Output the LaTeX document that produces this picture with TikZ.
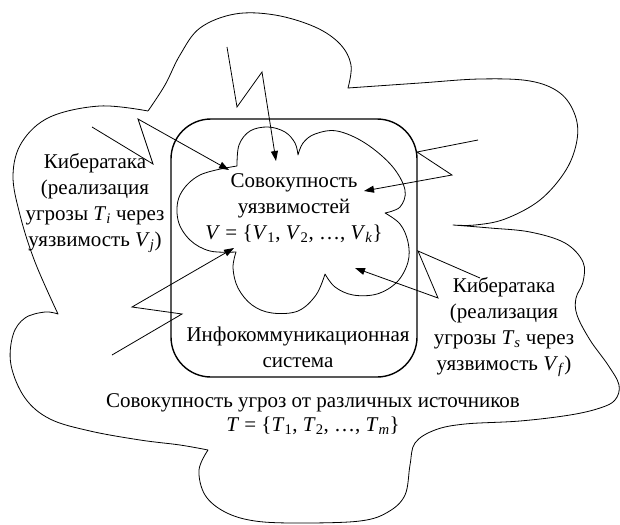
\documentclass[tikz,border=0pt]{standalone}
\usepackage{fontspec}
\setmainfont{Liberation Serif}
\usetikzlibrary{arrows.meta}
\newcommand{\sbs}[1]{\textsubscript{#1}}
\begin{document}
\begin{tikzpicture}[x=1pt,y=-1pt,
  cloudline/.style={line width=0.8pt, line join=round},
  attack/.style={line width=0.8pt, line join=miter, -{Triangle[length=10pt,width=7pt]}},
  lbl/.style={font=\fontsize{21}{26}\selectfont, align=center, inner sep=0pt},
  sysbox/.style={draw, line width=1.4pt, rounded corners=40pt, minimum width=246pt, minimum height=258pt, inner sep=0pt}
]
\useasboundingbox (0,0) rectangle (620,524);

% outer cloud: set of threats
\draw[cloudline]
  plot[smooth, tension=0.6] coordinates {(148,111) (165,85) (180,55) (200,28) (235,14) (275,15) (315,27) (340,44) (351,65) (348,88)}
  -- plot[smooth, tension=0.6] coordinates {(348,88) (420,83) (480,79) (530,81) (560,93) (575,115) (577,140) (566,170) (540,200) (505,219) (475,225) (453,225)}
  -- plot[smooth, tension=0.6] coordinates {(453,225) (490,228) (530,232) (565,243) (583,262) (583,282) (576,298) (577,315) (590,340) (608,365) (619,385) (615,400) (600,408) (570,415) (520,421) (465,424) (435,430) (415,443) (410,465) (405,495) (388,512) (360,521) (300,523) (255,521) (225,512) (205,495) (199,470) (208,450)}
  -- plot[smooth, tension=0.6] coordinates {(208,450) (180,445) (140,440) (90,431) (50,419) (25,398) (11,365) (13,335) (25,318) (45,312) (58,314)}
  -- plot[smooth, tension=0.6] coordinates {(58,314) (35,262) (20,215) (13,175) (22,142) (50,117) (100,106) (148,111)};

% system box
\node[sysbox] (sys) at (294,248) {};

% inner cloud: set of vulnerabilities
\draw[cloudline]
  plot[smooth, tension=0.6] coordinates {(237,166) (239,145) (250,131) (268,127) (285,132) (295,143) (298,155)}
  -- plot[smooth, tension=0.6] coordinates {(298,155) (303,143) (315,134) (337,131) (365,143) (392,166) (405,190) (400,207) (385,213)}
  -- plot[smooth, tension=0.6] coordinates {(385,213) (400,224) (408,242) (408,262) (397,282) (377,294) (353,295) (335,287) (325,274)}
  -- plot[smooth, tension=0.6] coordinates {(325,274) (316,295) (298,311) (272,313) (252,305) (238,288) (233,268) (236,252)}
  -- plot[smooth, tension=0.6] coordinates {(236,252) (210,251) (190,240) (178,220) (180,195) (200,175) (237,166)};

% texts
\node[lbl] (vuln) at (294,208) {Совокупность\\уязвимостей\\\textit{V} = \{\textit{V}\sbs{1}, \textit{V}\sbs{2}, …, \textit{V}\sbs{\textit{k}}\}};
\node[lbl] (left) at (95,203) {Кибератака\\(реализация\\угрозы \textit{T}\sbs{\textit{i}} через\\уязвимость \textit{V}\sbs{\textit{j}})};
\node[lbl] (right) at (504,327) {Кибератака\\(реализация\\угрозы \textit{T}\sbs{\textit{s}} через\\уязвимость \textit{V}\sbs{\textit{f}})};
\node[lbl] (systxt) at (298,347) {Инфокоммуникационная\\система};
\node[lbl, font=\fontsize{21}{24}\selectfont] (threats) at (313,414) {Совокупность угроз от различных источников\\\textit{T} = \{\textit{T}\sbs{1}, \textit{T}\sbs{2}, …, \textit{T}\sbs{\textit{m}}\}};

% attack zigzags
\coordinate (z1s) at (92,127);   \coordinate (z1a) at (153,164); \coordinate (z1b) at (138,119); \coordinate (z1e) at (229,170);
\coordinate (z2s) at (227,47);   \coordinate (z2a) at (237,107); \coordinate (z2b) at (262,72);  \coordinate (z2e) at (276,161);
\coordinate (z3s) at (478,140);  \coordinate (z3a) at (417,152); \coordinate (z3b) at (452,175); \coordinate (z3e) at (364,191);
\coordinate (z4s) at (480,278);  \coordinate (z4a) at (418,251); \coordinate (z4b) at (438,298); \coordinate (z4e) at (355,268);
\coordinate (z5s) at (112,355);  \coordinate (z5a) at (182,314); \coordinate (z5b) at (132,307); \coordinate (z5e) at (234,248);

\draw[attack] (z1s) -- (z1a) -- (z1b) -- (z1e);
\draw[attack] (z2s) -- (z2a) -- (z2b) -- (z2e);
\draw[attack] (z3s) -- (z3a) -- (z3b) -- (z3e);
\draw[attack] (z4s) -- (z4a) -- (z4b) -- (z4e);
\draw[attack] (z5s) -- (z5a) -- (z5b) -- (z5e);
\end{tikzpicture}
\end{document}
